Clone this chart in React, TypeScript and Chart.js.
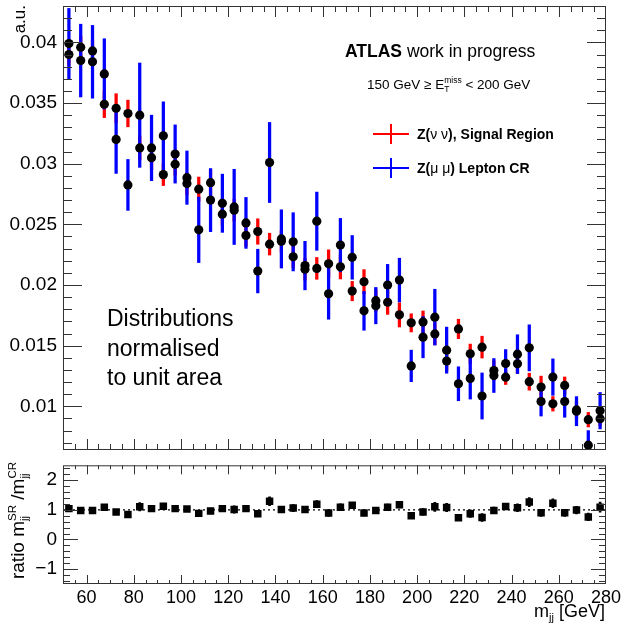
import React, { useEffect, useRef } from 'react';
import { Chart, registerables } from 'chart.js';

Chart.register(...registerables);

const FONT = '"Liberation Sans", Arial, Helvetica, sans-serif';

// bin centres of m_jj [GeV]
const BINS = [
  52.5, 57.5, 62.5, 67.5, 72.5, 77.5, 82.5, 87.5, 92.5, 97.5,
  102.5, 107.5, 112.5, 117.5, 122.5, 127.5, 132.5, 137.5, 142.5, 147.5,
  152.5, 157.5, 162.5, 167.5, 172.5, 177.5, 182.5, 187.5, 192.5, 197.5,
  202.5, 207.5, 212.5, 217.5, 222.5, 227.5, 232.5, 237.5, 242.5, 247.5,
  252.5, 257.5, 262.5, 267.5, 272.5, 277.5,
];

// Z(nu nu), Signal Region (red)
const SR = [
  0.0390, 0.0396, 0.0393, 0.0349, 0.03457, 0.03414, 0.0313, 0.0305, 0.0291, 0.02995,
  0.02836, 0.0279, 0.02844, 0.02584, 0.02617, 0.02409, 0.02441, 0.02337, 0.0236, 0.02233,
  0.0213, 0.02137, 0.02175, 0.0215, 0.0195, 0.02027, 0.01871, 0.01858, 0.01754, 0.01688,
  0.01696, 0.01597, 0.01373, 0.01638, 0.01433, 0.01488, 0.01295, 0.0124, 0.01351, 0.01203,
  0.01159, 0.01021, 0.01172, 0.0097, 0.0089, 0.00898,
];
const SR_ERR = [
  0.0009, 0.0009, 0.0009, 0.0011, 0.0012, 0.0011, 0.0010, 0.0010, 0.0009, 0.0009,
  0.0009, 0.0010, 0.0010, 0.0009, 0.0009, 0.0009, 0.00105, 0.0009, 0.0009, 0.0009,
  0.0009, 0.0009, 0.00115, 0.0010, 0.0008, 0.0010, 0.0009, 0.0010, 0.0010, 0.00075,
  0.0009, 0.0009, 0.0008, 0.0008, 0.0008, 0.0009, 0.0008, 0.0006, 0.0008, 0.0007,
  0.0009, 0.0006, 0.0007, 0.0007, 0.0006, 0.0006,
];

// Z(mu mu) Lepton CR (blue)
const CR = [
  0.0399, 0.0385, 0.0384, 0.0374, 0.0320, 0.02825, 0.0340, 0.0313, 0.0323, 0.0308,
  0.02885, 0.02455, 0.0270, 0.02674, 0.02644, 0.02512, 0.02115, 0.0301, 0.0238, 0.02356,
  0.0216, 0.02526, 0.01928, 0.02329, 0.02228, 0.01787, 0.0183, 0.0200, 0.02041, 0.01333,
  0.0157, 0.01735, 0.01463, 0.01186, 0.0123, 0.01085, 0.01254, 0.01353, 0.0143, 0.01482,
  0.0104, 0.01241, 0.0104, 0.0096, 0.0068, 0.00964,
];
const CR_ERR = [
  0.0029, 0.0030, 0.0030, 0.0029, 0.0028, 0.0021, 0.0043, 0.0027, 0.0028, 0.0024,
  0.0022, 0.0027, 0.0026, 0.0024, 0.0031, 0.0021, 0.0018, 0.0033, 0.0024, 0.0024,
  0.0020, 0.0024, 0.0021, 0.0022, 0.0018, 0.0016, 0.0015, 0.0017, 0.0018, 0.0013,
  0.0017, 0.0023, 0.0019, 0.0014, 0.0017, 0.0019, 0.0014, 0.00115, 0.0016, 0.0019,
  0.0012, 0.0015, 0.0013, 0.0012, 0.0012, 0.0015,
];

// ratio panel
const RATIO = [
  1.04, 0.98, 0.98, 1.09, 0.93, 0.84, 1.10, 1.04, 1.12, 1.04,
  1.03, 0.88, 0.96, 1.04, 1.01, 1.04, 0.87, 1.29, 1.01, 1.06,
  1.01, 1.19, 0.89, 1.09, 1.15, 0.89, 0.98, 1.09, 1.17, 0.80,
  0.93, 1.10, 1.08, 0.73, 0.87, 0.74, 0.98, 1.11, 1.07, 1.26,
  0.90, 1.22, 0.90, 0.99, 0.76, 1.09,
];
const RATIO_ERR = [
  0.08, 0.08, 0.08, 0.09, 0.09, 0.08, 0.14, 0.09, 0.10, 0.08,
  0.08, 0.10, 0.10, 0.09, 0.12, 0.09, 0.09, 0.15, 0.10, 0.12,
  0.10, 0.12, 0.11, 0.11, 0.10, 0.10, 0.09, 0.10, 0.11, 0.09,
  0.11, 0.15, 0.14, 0.09, 0.13, 0.13, 0.11, 0.10, 0.13, 0.15,
  0.12, 0.15, 0.12, 0.13, 0.13, 0.17,
];

// tick labels
const X_TICKS = [60, 80, 100, 120, 140, 160, 180, 200, 220, 240, 260, 280];
const TOP_Y_TICKS = [0.01, 0.015, 0.02, 0.025, 0.03, 0.035, 0.04];
const BOT_Y_TICKS = [-1, 0, 1, 2];

const X_MIN = 50;
const X_MAX = 280;
const TOP_Y_MIN = 0.0064;
const TOP_Y_MAX = 0.043;
const BOT_Y_MIN = -1.5;
const BOT_Y_MAX = 2.5;

type Seg = { t: string; size: number; bold?: boolean; dy?: number; stack?: boolean };

function segFont(s: Seg) {
  return `${s.bold ? 'bold ' : ''}${s.size}px ${FONT}`;
}

function drawRich(ctx: CanvasRenderingContext2D, segs: Seg[], x: number, y: number, align: 'left' | 'right' = 'left') {
  let w = 0;
  let prevStart = 0;
  let prevW = 0;
  for (const s of segs) {
    ctx.font = segFont(s);
    const sw = ctx.measureText(s.t).width;
    if (s.stack) {
      prevW = Math.max(prevW, sw);
      w = prevStart + prevW;
    } else {
      prevStart = w;
      prevW = sw;
      w += sw;
    }
  }
  let cx = align === 'right' ? x - w : x;
  let start = cx;
  let pw = 0;
  ctx.textAlign = 'left';
  ctx.textBaseline = 'alphabetic';
  for (const s of segs) {
    ctx.font = segFont(s);
    const sw = ctx.measureText(s.t).width;
    if (s.stack) {
      ctx.fillText(s.t, start, y + (s.dy || 0));
      pw = Math.max(pw, sw);
      cx = start + pw;
    } else {
      start = cx;
      ctx.fillText(s.t, cx, y + (s.dy || 0));
      pw = sw;
      cx += sw;
    }
  }
}

type TickCfg = {
  xMajor: number; xMinor: number; yMajor: number; yMinor: number;
  xMajLen: number; xMinLen: number; yMajLen: number; yMinLen: number;
};

function framePlugin(cfg: TickCfg) {
  return {
    id: 'rootFrame',
    afterDatasetsDraw(chart: any) {
      const { ctx, chartArea: a, scales } = chart;
      const xs = scales.x;
      const ys = scales.y;
      ctx.save();
      ctx.strokeStyle = '#333';
      ctx.lineWidth = 1;
      ctx.strokeRect(a.left + 0.5, a.top + 0.5, a.right - a.left - 1, a.bottom - a.top - 1);
      ctx.beginPath();
      const isMajor = (v: number, m: number) => Math.abs(v / m - Math.round(v / m)) < 1e-6;
      for (let k = Math.ceil(xs.min / cfg.xMinor - 1e-9); k * cfg.xMinor <= xs.max + 1e-9; k++) {
        const v = k * cfg.xMinor;
        const px = Math.round(xs.getPixelForValue(v)) + 0.5;
        if (px <= a.left + 1 || px >= a.right - 1) continue;
        const len = isMajor(v, cfg.xMajor) ? cfg.xMajLen : cfg.xMinLen;
        ctx.moveTo(px, a.bottom);
        ctx.lineTo(px, a.bottom - len);
        ctx.moveTo(px, a.top);
        ctx.lineTo(px, a.top + len);
      }
      for (let k = Math.ceil(ys.min / cfg.yMinor - 1e-9); k * cfg.yMinor <= ys.max + 1e-9; k++) {
        const v = k * cfg.yMinor;
        const py = Math.round(ys.getPixelForValue(v)) + 0.5;
        if (py <= a.top + 1 || py >= a.bottom - 1) continue;
        const len = isMajor(v, cfg.yMajor) ? cfg.yMajLen : cfg.yMinLen;
        ctx.moveTo(a.left, py);
        ctx.lineTo(a.left + len, py);
        ctx.moveTo(a.right, py);
        ctx.lineTo(a.right - len, py);
      }
      ctx.stroke();
      ctx.restore();
    },
  };
}

const topTextPlugin = {
  id: 'topText',
  afterDraw(chart: any) {
    const ctx: CanvasRenderingContext2D = chart.ctx;
    ctx.save();
    ctx.fillStyle = '#000';
    ctx.save();
    ctx.translate(25, 5);
    ctx.rotate(-Math.PI / 2);
    drawRich(ctx, [{ t: 'a.u.', size: 17 }], 0, 0, 'right');
    ctx.restore();

    drawRich(ctx, [
      { t: 'ATLAS', size: 17.5, bold: true },
      { t: ' work in progress', size: 17.5 },
    ], 345, 57);

    drawRich(ctx, [
      { t: '150 GeV \u2265 E', size: 13.5 },
      { t: 'T', size: 8.5, dy: 3 },
      { t: 'miss', size: 8.5, dy: -6, stack: true },
      { t: ' < 200 GeV', size: 13.5 },
    ], 367, 89);

    const items = [
      { color: '#ff0000', y: 134, label: [{ t: 'Z(', size: 14, bold: true }, { t: '\u03bd \u03bd', size: 14 }, { t: '), Signal Region', size: 14, bold: true }] },
      { color: '#0000ff', y: 168, label: [{ t: 'Z(', size: 14, bold: true }, { t: '\u03bc \u03bc', size: 14 }, { t: ') Lepton CR', size: 14, bold: true }] },
    ];
    for (const it of items) {
      ctx.strokeStyle = it.color;
      ctx.lineWidth = 2;
      ctx.beginPath();
      ctx.moveTo(373, it.y);
      ctx.lineTo(409, it.y);
      ctx.moveTo(391, it.y - 10);
      ctx.lineTo(391, it.y + 10);
      ctx.stroke();
      drawRich(ctx, it.label as Seg[], 417, it.y + 5);
    }

    drawRich(ctx, [{ t: 'Distributions', size: 23 }], 107, 326);
    drawRich(ctx, [{ t: 'normalised', size: 23 }], 107, 355.5);
    drawRich(ctx, [{ t: 'to unit area', size: 23 }], 107, 385);
    ctx.restore();
  },
};

const botTextPlugin = {
  id: 'botText',
  afterDraw(chart: any) {
    const ctx: CanvasRenderingContext2D = chart.ctx;
    ctx.save();
    ctx.fillStyle = '#000';
    ctx.save();
    ctx.translate(24, 2);
    ctx.rotate(-Math.PI / 2);
    drawRich(ctx, [
      { t: 'ratio m', size: 19 },
      { t: 'jj', size: 11.5, dy: 4 },
      { t: 'SR', size: 11.5, dy: -8, stack: true },
      { t: ' /m', size: 19 },
      { t: 'jj', size: 11.5, dy: 4 },
      { t: 'CR', size: 11.5, dy: -8, stack: true },
    ], 0, 0, 'right');
    ctx.restore();
    drawRich(ctx, [
      { t: 'm', size: 18 },
      { t: 'jj', size: 11, dy: 4 },
      { t: ' [GeV]', size: 18 },
    ], 605, 157, 'right');
    ctx.restore();
  },
};

const noPad = (s: any) => {
  s.paddingTop = 0;
  s.paddingBottom = 0;
  s.paddingLeft = 0;
  s.paddingRight = 0;
};

export default function App() {
  const topRef = useRef<HTMLCanvasElement>(null);
  const botRef = useRef<HTMLCanvasElement>(null);

  useEffect(() => {
    Chart.defaults.font.family = FONT;
    Chart.defaults.color = '#000';

    const errBars = (vals: number[], errs: number[]) =>
      BINS.map((b, i) => ({ x: b, y: [vals[i] - errs[i], vals[i] + errs[i]] }));
    const pts = (vals: number[]) => BINS.map((b, i) => ({ x: b, y: vals[i] }));
    const setTicks = (vals: number[]) => (s: any) => {
      s.ticks = vals.map((v) => ({ value: v }));
    };

    const top = new Chart(topRef.current!, {
      type: 'scatter',
      data: {
        datasets: [
          {
            type: 'bar',
            label: 'SR err',
            data: errBars(SR, SR_ERR) as any,
            backgroundColor: '#ff0000',
            borderWidth: 0,
            barThickness: 2.6,
            grouped: false,
            order: 3,
          } as any,
          {
            type: 'bar',
            label: 'CR err',
            data: errBars(CR, CR_ERR) as any,
            backgroundColor: '#0000ff',
            borderWidth: 0,
            barThickness: 2.6,
            grouped: false,
            order: 2,
          } as any,
          {
            type: 'scatter',
            label: 'Z(nu nu), Signal Region',
            data: pts(SR),
            pointRadius: 4.6,
            pointBackgroundColor: '#000',
            pointBorderWidth: 0,
            order: 1,
          },
          {
            type: 'scatter',
            label: 'Z(mu mu) Lepton CR',
            data: pts(CR),
            pointRadius: 4.6,
            pointBackgroundColor: '#000',
            pointBorderWidth: 0,
            order: 0,
          },
        ],
      },
      options: {
        animation: false,
        responsive: false,
        devicePixelRatio: 1,
        events: [],
        layout: { padding: { left: 0, right: 19, top: 6, bottom: 10 } },
        plugins: { legend: { display: false }, tooltip: { enabled: false } },
        scales: {
          x: {
            type: 'linear',
            min: X_MIN,
            max: X_MAX,
            display: false,
            offset: false,
          },
          y: {
            type: 'linear',
            min: TOP_Y_MIN,
            max: TOP_Y_MAX,
            grid: { display: false, drawTicks: false },
            border: { display: false },
            afterBuildTicks: setTicks(TOP_Y_TICKS),
            ticks: {
              padding: 6,
              font: { size: 19, family: FONT },
              color: '#000',
              callback: (v: any) => String(+Number(v).toFixed(3)),
            },
            afterFit: (s: any) => { s.width = 63; noPad(s); },
          },
        },
      },
      plugins: [
        framePlugin({ xMajor: 20, xMinor: 5, yMajor: 0.005, yMinor: 0.001, xMajLen: 11, xMinLen: 6, yMajLen: 19, yMinLen: 9 }),
        topTextPlugin,
      ],
    } as any);

    const bot = new Chart(botRef.current!, {
      type: 'scatter',
      data: {
        datasets: [
          {
            type: 'line',
            label: 'unity',
            data: [{ x: X_MIN, y: 1 }, { x: X_MAX, y: 1 }],
            borderColor: '#000',
            borderWidth: 1.3,
            borderDash: [2, 3],
            pointRadius: 0,
            order: 3,
          } as any,
          {
            type: 'bar',
            label: 'ratio err',
            data: errBars(RATIO, RATIO_ERR) as any,
            backgroundColor: '#000',
            borderWidth: 0,
            barThickness: 2,
            grouped: false,
            order: 2,
          } as any,
          {
            type: 'scatter',
            label: 'ratio',
            data: pts(RATIO),
            pointStyle: 'rect',
            pointRadius: 5.3,
            pointBackgroundColor: '#000',
            pointBorderWidth: 0,
            order: 1,
          },
        ],
      },
      options: {
        animation: false,
        responsive: false,
        devicePixelRatio: 1,
        events: [],
        layout: { padding: { left: 0, right: 19, top: 5, bottom: 0 } },
        plugins: { legend: { display: false }, tooltip: { enabled: false } },
        scales: {
          x: {
            type: 'linear',
            min: X_MIN,
            max: X_MAX,
            offset: false,
            grid: { display: false, drawTicks: false },
            border: { display: false },
            afterBuildTicks: setTicks(X_TICKS),
            ticks: {
              autoSkip: false,
              maxRotation: 0,
              padding: 3,
              font: { size: 18, family: FONT },
              color: '#000',
            },
            afterFit: (s: any) => { s.height = 43; noPad(s); },
          },
          y: {
            type: 'linear',
            min: BOT_Y_MIN,
            max: BOT_Y_MAX,
            grid: { display: false, drawTicks: false },
            border: { display: false },
            afterBuildTicks: setTicks(BOT_Y_TICKS),
            ticks: {
              padding: 6,
              font: { size: 19, family: FONT },
              color: '#000',
              callback: (v: any) => (Number(v) < 0 ? '\u2212' + Math.abs(Number(v)) : String(v)),
            },
            afterFit: (s: any) => { s.width = 63; noPad(s); },
          },
        },
      },
      plugins: [
        framePlugin({ xMajor: 20, xMinor: 5, yMajor: 1, yMinor: 0.2, xMajLen: 9, xMinLen: 4, yMajLen: 15, yMinLen: 7 }),
        botTextPlugin,
      ],
    } as any);

    return () => {
      top.destroy();
      bot.destroy();
    };
  }, []);

  return (
    <div style={{ position: 'absolute', left: 0, top: 0, width: 625, height: 627, background: '#fff' }}>
      <canvas ref={topRef} width={625} height={460} style={{ position: 'absolute', left: 0, top: 0, width: 625, height: 460 }} />
      <canvas ref={botRef} width={625} height={167} style={{ position: 'absolute', left: 0, top: 460, width: 625, height: 167 }} />
    </div>
  );
}
